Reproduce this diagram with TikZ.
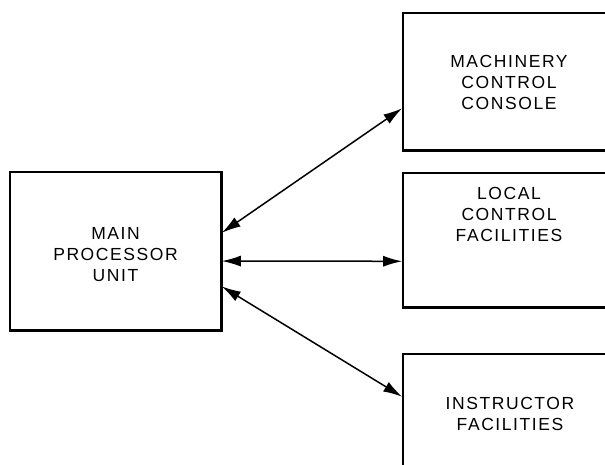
\documentclass[tikz,border=0pt]{standalone}
\usepackage{fontspec}
\setmainfont{Liberation Sans}[LetterSpace=9]
\usetikzlibrary{arrows.meta,calc}
\begin{document}
\begin{tikzpicture}[x=1pt,y=-1pt,
  box/.style={draw=black,line width=1.6pt,inner sep=0pt},
  lbl/.style={align=center,inner sep=0pt,font=\fontsize{17.5}{21}\selectfont},
  link/.style={line width=1.5pt,{Latex[length=19pt,width=11pt]}-{Latex[length=19pt,width=11pt]}},
  heavy/.style={line width=3.2pt}]
\useasboundingbox[fill=white] (0,0) rectangle (605,465);

% processor block on the left
\node[box,minimum width=211pt,minimum height=158pt] (mpu) at (115.5,251) {};
\draw[heavy] (mpu.north east) -- (mpu.south east) -- (mpu.south west);
\node[lbl] (mpuT) at (115.5,255) {MAIN\\PROCESSOR\\UNIT};

% three station blocks running off the right edge
\node[box,minimum width=212pt,minimum height=137pt] (mcc) at (509,81.5) {};
\draw[heavy] (mcc.south west) -- (mcc.south east);
\node[lbl] (mccT) at (509,82.5) {MACHINERY\\CONTROL\\CONSOLE};

\node[box,minimum width=212pt,minimum height=134pt] (lcf) at (509,240) {};
\draw[heavy] (lcf.south west) -- (lcf.south east);
\node[lbl] (lcfT) at (509,214) {LOCAL\\CONTROL\\FACILITIES};

\node[box,minimum width=212pt,minimum height=119pt] (ins) at (509,413.5) {};
\node[lbl] (insT) at (510,414) {INSTRUCTOR\\FACILITIES};

% attachment points on the block edges
\coordinate (m1) at ($(mpu.north east)!0.386!(mpu.south east)$);
\coordinate (m2) at ($(mpu.north east)!0.563!(mpu.south east)$);
\coordinate (m3) at ($(mpu.north east)!0.722!(mpu.south east)$);
\coordinate (c1) at ($(mcc.north west)!0.693!(mcc.south west)$);
\coordinate (c2) at ($(lcf.north west)!0.657!(lcf.south west)$);
\coordinate (c3) at ($(ins.north west)!0.361!(ins.south west)$);

% two-way data links
\draw[link] (m1) -- (c1);
\draw[link] (m2) -- (c2);
\draw[link] (m3) -- (c3);
\end{tikzpicture}
\end{document}
